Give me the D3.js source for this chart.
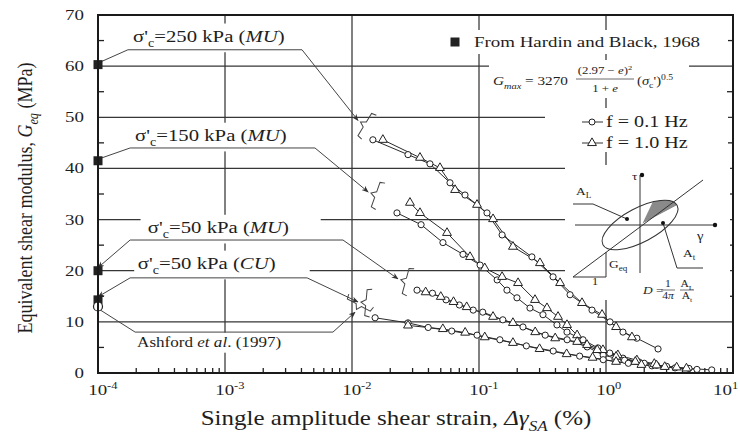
<!DOCTYPE html>
<html>
<head>
<meta charset="utf-8">
<script src="https://cdn.jsdelivr.net/npm/d3@7"></script>
<style>
  body { margin: 0; background: #fff; }
  svg { display: block; font-family: "Liberation Serif", "Times New Roman", serif; }
  text { white-space: pre; }
</style>
</head>
<body>
<div id="chart"></div>
<script>
// ---- data ----
const xTicks = [1e-4, 1e-3, 1e-2, 1e-1, 1, 10];
const xTickExp = ['-4', '-3', '-2', '-1', '0', '1'];
const yTicks = [0, 10, 20, 30, 40, 50, 60, 70];

// Hardin & Black (1968) Gmax at the small-strain end, and Ashford et al. (1997)
const hardinStrain = 1e-4;
const hardinG = [60.3, 41.5, 20.0, 14.3];
const ashfordG = 13.0;

// [strain (%), Geq (MPa)]
const s250f01 = [[0.0146,45.6],[0.0276,42.7],[0.0411,40.9],[0.0591,37.2],[0.0776,34.8],[0.1156,31.3],[0.152,27.0],[0.261,22.7],[0.383,18.8],[0.521,15.3],[0.776,12.3],[1.075,10.0],[1.36,8.0],[1.75,6.8],[2.57,4.7]];
const s250f10 = [[0.0175,45.6],[0.0343,42.1],[0.0493,40.1],[0.0648,35.8],[0.0965,32.9],[0.129,30.1],[0.185,24.7],[0.302,21.5],[0.435,17.6],[0.647,13.7],[0.931,11.4],[1.2,9.0],[1.6,7.0]];
const s150f01 = [[0.0226,31.3],[0.035,29.0],[0.052,25.5],[0.0748,23.2],[0.102,21.1],[0.139,18.2],[0.166,16.2],[0.199,14.7],[0.252,12.7],[0.319,11.4],[0.411,9.4],[0.493,8.0],[0.659,6.5],[0.865,4.9],[1.07,3.9],[1.36,2.9],[1.8,2.2],[2.5,1.5]];
const s150f10 = [[0.0286,33.3],[0.0343,31.3],[0.056,27.4],[0.085,22.7],[0.111,20.5],[0.152,18.8],[0.203,17.6],[0.276,14.3],[0.343,12.7],[0.419,11.0],[0.493,9.4],[0.592,7.4],[0.709,5.5],[0.946,4.5],[1.24,3.5],[1.75,2.5],[2.4,1.8]];
const s50MUf01 = [[0.0325,16.2],[0.043,15.6],[0.055,14.3],[0.07,13.3],[0.09,12.3],[0.107,11.9],[0.154,10.4],[0.222,9.0],[0.332,7.4],[0.494,6.5],[0.711,5.1],[0.95,3.5],[1.4,2.5],[2.0,1.9],[3.0,1.3],[4.5,0.9],[6.8,0.6]];
const s50MUf10 = [[0.038,15.8],[0.05,14.9],[0.063,13.9],[0.08,12.9],[0.129,11.0],[0.185,9.8],[0.277,8.0],[0.398,6.8],[0.593,6.1],[0.853,4.5],[1.2,3.2],[1.7,2.2],[2.5,1.5],[3.6,1.1]];
const s50CUf01 = [[0.0152,10.8],[0.0276,9.8],[0.0398,8.9],[0.061,8.2],[0.0965,7.4],[0.146,6.5],[0.236,5.3],[0.384,4.3],[0.62,3.3],[0.95,2.6],[1.5,1.9],[2.3,1.4],[3.5,1.0],[5.2,0.7]];
const s50CUf10 = [[0.0276,9.3],[0.0519,8.6],[0.0778,7.9],[0.111,7.0],[0.185,5.9],[0.30,4.7],[0.49,3.7],[0.784,3.0],[1.2,2.2],[1.9,1.6],[2.9,1.2],[4.3,0.9]];

const circleSeries = [s250f01, s150f01, s50MUf01, s50CUf01];
const triangleSeries = [s250f10, s150f10, s50MUf10, s50CUf10];

// ---- layout ----
const W = 740, H = 437;
const margin = { top: 15, right: 7, bottom: 64, left: 98 };
const SX = 1.22;          // the scan is stretched sideways, so is the lettering
const INK = '#1e1e1e';

const svg = d3.select('#chart').append('svg').attr('width', W).attr('height', H);

const x = d3.scaleLog().domain([1e-4, 10]).range([margin.left, W - margin.right]);
const y = d3.scaleLinear().domain([0, 70]).range([H - margin.bottom, margin.top]);
const x0 = x.range()[0], x1 = x.range()[1], y0 = y.range()[0], y1 = y.range()[1];

const defs = svg.append('defs');
defs.append('marker').attr('id', 'arr').attr('viewBox', '0 0 10 10')
  .attr('refX', 9).attr('refY', 5).attr('markerWidth', 7).attr('markerHeight', 7)
  .attr('orient', 'auto-start-reverse')
  .append('path').attr('d', 'M0,1 L10,5 L0,9 L3,5 Z').attr('fill', '#333');

// rich text helper: segments [text, flags]
function rich(t, segs, size) {
  let shift = 0;
  segs.forEach(([txt, st = '']) => {
    const ts = t.append('tspan').text(txt);
    let target = 0, fs = size;
    if (st.includes('sub')) { target = size * 0.28; fs = size * 0.68; }
    if (st.includes('sup')) { target = -size * 0.4; fs = size * 0.66; }
    ts.attr('dy', target - shift).attr('font-size', fs);
    if (st.split(' ').includes('i')) ts.attr('font-style', 'italic');
    shift = target;
  });
}

function stext(parent, px, py, opts, segs) {
  const g = parent.append('g')
    .attr('transform', `translate(${px},${py}) scale(${SX},1)` + (opts.rotate ? ` rotate(${opts.rotate})` : ''));
  const t = g.append('text').attr('text-anchor', opts.anchor || 'start')
    .attr('font-size', opts.size).attr('fill', opts.fill || INK)
    .attr('font-weight', opts.weight || 'normal');
  rich(t, segs, opts.size);
  if (opts.bg) {
    const b = t.node().getBBox();
    const p = opts.pad == null ? 2 : opts.pad;
    const pl = opts.padL == null ? p : opts.padL, pr = opts.padR == null ? p : opts.padR;
    g.insert('rect', 'text').attr('x', b.x - pl).attr('y', b.y - p)
      .attr('width', b.width + pl + pr).attr('height', b.height + 2 * p).attr('fill', '#fff');
  }
  return g;
}

// ---- grid ----
const grid = svg.append('g').attr('stroke', '#363636').attr('stroke-width', 1.25);
grid.selectAll('.gx').data(xTicks.slice(1, -1)).enter().append('line')
  .attr('x1', d => x(d)).attr('x2', d => x(d)).attr('y1', y1).attr('y2', y0);
grid.selectAll('.gy').data(yTicks.slice(1, -1)).enter().append('line')
  .attr('y1', d => y(d)).attr('y2', d => y(d)).attr('x1', x0).attr('x2', x1);

// minor ticks
const minorX = [];
xTicks.slice(0, -1).forEach(d => { for (let k = 2; k <= 9; k++) minorX.push(d * k); });
const ticks = svg.append('g').attr('stroke', '#222').attr('stroke-width', 1.3);
ticks.selectAll('.mx').data(minorX).enter().append('line')
  .attr('x1', d => x(d)).attr('x2', d => x(d)).attr('y1', y0).attr('y2', y0 - 5);
ticks.selectAll('.my').data(d3.range(5, 70, 10)).enter().append('line')
  .attr('y1', d => y(d)).attr('y2', d => y(d)).attr('x1', x0).attr('x2', x0 + 6);
ticks.selectAll('.myr').data(d3.range(5, 70, 10)).enter().append('line')
  .attr('y1', d => y(d)).attr('y2', d => y(d)).attr('x1', x1).attr('x2', x1 - 6);

// ---- white patches behind annotation areas (legend & sketch) ----
const patches = svg.append('g').attr('fill', '#fff');
patches.append('rect').attr('x', 545).attr('y', 108).attr('width', 183).attr('height', 44);
patches.append('rect').attr('x', 565).attr('y', 165).attr('width', 165).attr('height', 135);
patches.append('rect').attr('x', 489).attr('y', 60).attr('width', 200).attr('height', 38);
patches.append('rect').attr('x', 446).attr('y', 30).attr('width', 282).attr('height', 24);

// ---- pressure labels ----
const lab = svg.append('g');
const LS = 17;
const sigLabel = (p, mode) => [['σ\''], ['c', 'sub'], ['=' + p + ' kPa ('], [mode, 'i'], [')']];
stext(lab, x(1.89e-4), y(63.2) - 8, { size: LS, bg: true, pad: 3 }, sigLabel(250, 'MU'));
stext(lab, x(1.96e-4), y(44.0) - 7, { size: LS, bg: true, pad: 3 }, sigLabel(150, 'MU'));
stext(lab, x(2.47e-4), y(26.0) - 7, { size: LS, bg: true, pad: 3, padL: 6, padR: 26 }, sigLabel(50, 'MU'));
stext(lab, x(2.06e-4), y(18.6) - 9, { size: LS, bg: true, pad: 3, padL: 3, padR: 28 }, sigLabel(50, 'CU'));
stext(lab, x(2.03e-4), y(8.0) + 15, { size: 14, bg: true, pad: 2 },
  [['Ashford '], ['et al', 'i'], ['. (1997)']]);

// ---- leader lines (data units) ----
const leaders = [
  { pts: [[1e-4, 60.6], [1.72e-4, 63.2], [4.04e-3, 63.2], [0.01114, 49.4]], startArrow: false },
  { pts: [[1e-4, 41.8], [1.79e-4, 44.0], [5.11e-3, 44.0], [0.0134, 35.4]], startArrow: false },
  { pts: [[1e-4, 20.6], [1.79e-4, 26.0], [8.49e-3, 26.0], [0.0230, 18.4]], startArrow: true },
  { pts: [[1e-4, 14.9], [1.79e-4, 18.6], [4.43e-3, 18.6], [0.01114, 13.9]], startArrow: true },
  { pts: [[1e-4, 12.6], [1.96e-4, 8.0], [7.08e-3, 8.0], [0.01057, 11.9]], startArrow: false }
];
const lg = svg.append('g');
const lineGen = d3.line().x(d => x(d[0])).y(d => y(d[1]));
leaders.forEach(L => {
  lg.append('path').attr('d', lineGen(L.pts)).attr('fill', 'none')
    .attr('stroke', '#444').attr('stroke-width', 1)
    .attr('marker-end', 'url(#arr)')
    .attr('marker-start', L.startArrow ? 'url(#arr)' : null);
  // curly bracket just beyond the arrow tip
  const a = L.pts[L.pts.length - 2], b = L.pts[L.pts.length - 1];
  const ax = x(a[0]), ay = y(a[1]), bx = x(b[0]), by = y(b[1]);
  const ang = Math.atan2(by - ay, bx - ax) * 180 / Math.PI;
  lg.append('path')
    .attr('d', 'M10,-14 L5,-13 L5,-3 L0,0 L5,3 L5,13 L10,14')
    .attr('transform', `translate(${bx},${by}) rotate(${ang - 20}) translate(3,0)`)
    .attr('fill', 'none').attr('stroke', '#444').attr('stroke-width', 1);
});

// ---- data ----
const dataG = svg.append('g');
[...circleSeries, ...triangleSeries].forEach(s => {
  dataG.append('path').attr('d', lineGen(s)).attr('fill', 'none')
    .attr('stroke', '#2a2a2a').attr('stroke-width', 1);
});
circleSeries.forEach(s => {
  dataG.selectAll(null).data(s).enter().append('circle')
    .attr('cx', d => x(d[0])).attr('cy', d => y(d[1])).attr('r', 3.1)
    .attr('fill', '#fff').attr('stroke', '#222').attr('stroke-width', 1);
});
const tri = d3.symbol(d3.symbolTriangle).size(34);
triangleSeries.forEach(s => {
  dataG.selectAll(null).data(s).enter().append('path')
    .attr('d', tri).attr('transform', d => `translate(${x(d[0])},${y(d[1])})`)
    .attr('fill', '#fff').attr('stroke', '#222').attr('stroke-width', 1);
});

// Hardin & Black squares + Ashford open circle
dataG.selectAll('.hb').data(hardinG).enter().append('rect')
  .attr('x', x(hardinStrain) - 4.5).attr('y', d => y(d) - 4.5)
  .attr('width', 9).attr('height', 9).attr('fill', '#222');
dataG.append('circle').attr('cx', x(hardinStrain)).attr('cy', y(ashfordG)).attr('r', 4.5)
  .attr('fill', '#fff').attr('stroke', '#222').attr('stroke-width', 1.2);

// ---- legend ----
const leg = svg.append('g');
leg.append('rect').attr('x', 455 - 4.5).attr('y', 42 - 4.5).attr('width', 9).attr('height', 9).attr('fill', '#222');
stext(leg, 474, 47, { size: 15.5 }, [['From Hardin and Black, 1968']]);

// Gmax expression
const fx = svg.append('g');
stext(fx, 493, 85, { size: 12.5 }, [['G', 'i'], ['max', 'i sub'], [' = 3270']]);
stext(fx, 605, 74, { size: 10.5, anchor: 'middle' }, [['(2.97 − '], ['e', 'i'], [')'], ['2', 'sup']]);
fx.append('line').attr('x1', 576).attr('x2', 634).attr('y1', 79).attr('y2', 79).attr('stroke', '#444').attr('stroke-width', 0.8);
stext(fx, 605, 92, { size: 10.5, anchor: 'middle' }, [['1 + '], ['e', 'i']]);
stext(fx, 637, 85, { size: 12 }, [['('], ['σ', 'i'], ['c', 'sub'], ['\')'], ['0.5', 'sup']]);

// frequency legend
const legRows = [{ label: 'f = 0.1 Hz', sym: 'c', yy: 122 }, { label: 'f = 1.0 Hz', sym: 't', yy: 143 }];
legRows.forEach(r => {
  leg.append('line').attr('x1', 582).attr('x2', 603).attr('y1', r.yy).attr('y2', r.yy)
    .attr('stroke', '#333').attr('stroke-width', 1);
  if (r.sym === 'c') {
    leg.append('circle').attr('cx', 592).attr('cy', r.yy).attr('r', 3)
      .attr('fill', '#fff').attr('stroke', '#222');
  } else {
    leg.append('path').attr('d', tri).attr('transform', `translate(592,${r.yy})`)
      .attr('fill', '#fff').attr('stroke', '#222');
  }
  stext(leg, 606, r.yy + 5, { size: 16.5 }, [[r.label]]);
});

// ---- hysteresis sketch ----
const sk = svg.append('g').attr('transform', 'translate(640,225)');
const skc = '#333';
defs.append('clipPath').attr('id', 'shade')
  .append('path').attr('d', 'M2.7,0 L100,0 L100,-70 L96.8,-70 Z');
sk.append('ellipse').attr('rx', 42).attr('ry', 17).attr('transform', 'rotate(-28)')
  .attr('fill', '#8a8a8a').attr('clip-path', 'url(#shade)');
sk.append('ellipse').attr('rx', 42).attr('ry', 17).attr('transform', 'rotate(-28)')
  .attr('fill', 'none').attr('stroke', skc).attr('stroke-width', 1);
sk.append('line').attr('x1', -65).attr('x2', 75).attr('y1', 0).attr('y2', 0).attr('stroke', skc);
sk.append('line').attr('x1', 0).attr('x2', 0).attr('y1', 48).attr('y2', -50).attr('stroke', skc);
sk.append('circle').attr('cx', 75).attr('cy', 0).attr('r', 2.2).attr('fill', '#111');
sk.append('circle').attr('cx', 2).attr('cy', -50).attr('r', 2.2).attr('fill', '#111');
sk.append('line').attr('x1', -67).attr('y1', 52).attr('x2', 63).attr('y2', -45).attr('stroke', skc);
sk.append('path').attr('d', 'M-67,52 L-34,52 L-34,27').attr('fill', 'none').attr('stroke', skc);
sk.append('path').attr('d', 'M-67,-21 L-47,-21 L-13,-6').attr('fill', 'none').attr('stroke', skc);
sk.append('circle').attr('cx', -13).attr('cy', -6).attr('r', 2).attr('fill', '#111');
sk.append('path').attr('d', 'M23,-2 L37,43 L63,43').attr('fill', 'none').attr('stroke', skc);
sk.append('circle').attr('cx', 23).attr('cy', -2).attr('r', 2).attr('fill', '#111');
stext(sk, -8, -45, { size: 11 }, [['τ']]);
stext(sk, 57, 15, { size: 12 }, [['γ']]);
stext(sk, -64, -30, { size: 11 }, [['A'], ['L', 'sub']]);
stext(sk, 43, 32, { size: 11 }, [['A'], ['t', 'sub']]);
stext(sk, -31, 43, { size: 11 }, [['G'], ['eq', 'sub']]);
stext(sk, -48, 60, { size: 10 }, [['1']]);
stext(sk, 3, 69, { size: 11 }, [['D', 'i'], [' =']]);
stext(sk, 28, 62, { size: 9.5, anchor: 'middle' }, [['1']]);
stext(sk, 28, 74, { size: 9.5, anchor: 'middle' }, [['4'], ['π', 'i']]);
sk.append('line').attr('x1', 21).attr('x2', 35).attr('y1', 65).attr('y2', 65).attr('stroke', skc).attr('stroke-width', 0.7);
stext(sk, 47, 62, { size: 9.5, anchor: 'middle' }, [['A'], ['L', 'sub']]);
stext(sk, 47, 74, { size: 9.5, anchor: 'middle' }, [['A'], ['t', 'sub']]);
sk.append('line').attr('x1', 40).attr('x2', 54).attr('y1', 65).attr('y2', 65).attr('stroke', skc).attr('stroke-width', 0.7);

// ---- frame ----
svg.append('rect').attr('x', x0).attr('y', y1).attr('width', x1 - x0).attr('height', y0 - y1)
  .attr('fill', 'none').attr('stroke', '#1a1a1a').attr('stroke-width', 2);

// ---- tick labels ----
const tl = svg.append('g');
yTicks.forEach(v => stext(tl, x0 - 14, y(v) + 5, { size: 15.5, anchor: 'end' }, [[String(v)]]));
xTicks.forEach((v, i) => {
  const px = Math.min(x(v) - 8 * SX, W - 27);   // keep the last label inside the page
  stext(tl, px, y0 + 22, { size: 15.5 }, [['10'], [xTickExp[i], 'sup']]);
});

// ---- axis titles ----
stext(svg, 32, 198, { size: 18, anchor: 'middle', rotate: -90 },
  [['Equivalent shear modulus, '], ['G', 'i'], ['eq', 'i sub'], [' (MPa)']]);
stext(svg, 396, 425, { size: 20.5, anchor: 'middle' },
  [['Single amplitude shear strain, '], ['Δγ', 'i'], ['SA', 'i sub'], [' (%)']]);
</script>
</body>
</html>
